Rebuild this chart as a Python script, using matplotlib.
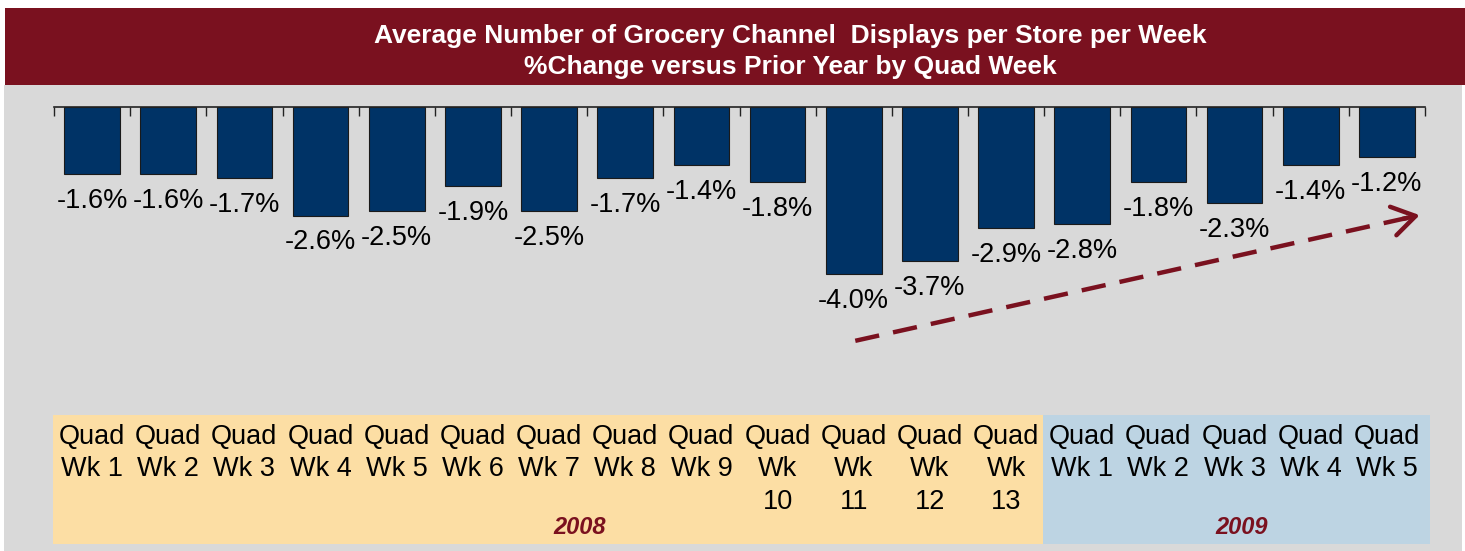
import matplotlib
matplotlib.use("Agg")
import matplotlib.pyplot as plt
from matplotlib.patches import Rectangle

plt.rcParams['font.family'] = ['Liberation Sans', 'DejaVu Sans']

# ---- data ----
values = [-1.6, -1.6, -1.7, -2.6, -2.5, -1.9, -2.5, -1.7, -1.4, -1.8,
          -4.0, -3.7, -2.9, -2.8, -1.8, -2.3, -1.4, -1.2]
labels_2008 = ["Quad\nWk 1", "Quad\nWk 2", "Quad\nWk 3", "Quad\nWk 4", "Quad\nWk 5",
               "Quad\nWk 6", "Quad\nWk 7", "Quad\nWk 8", "Quad\nWk 9",
               "Quad\nWk\n10", "Quad\nWk\n11", "Quad\nWk\n12", "Quad\nWk\n13"]
labels_2009 = ["Quad\nWk 1", "Quad\nWk 2", "Quad\nWk 3", "Quad\nWk 4", "Quad\nWk 5"]
years = ["2008", "2009"]
title_lines = ["Average Number of Grocery Channel  Displays per Store per Week",
               "%Change versus Prior Year by Quad Week"]
trend_start = (10.02, -5.60)
trend_end = (17.43, -2.59)

W, H = 1465, 551
fig = plt.figure(figsize=(W / 100, H / 100), dpi=100, facecolor="white")

RED = "#7A111F"
GRAY = "#D9D9D9"
NAVY = "#003366"
YELLOW = "#FCDEA4"
BLUE = "#BDD4E3"

def px_rect(x0, y0, x1, y1, color, z=0):
    fig.patches.append(Rectangle((x0 / W, 1 - y1 / H), (x1 - x0) / W, (y1 - y0) / H,
                                 transform=fig.transFigure, facecolor=color,
                                 edgecolor="none", zorder=z))

# background panels
px_rect(4, 85, 1462, 551, GRAY, z=-2)
px_rect(5, 8, 1465, 85, RED, z=-2)

fig.text(790 / W, 1 - 36 / H, title_lines[0], color="white", fontsize=19,
         fontweight="bold", ha="center", va="center")
fig.text(790 / W, 1 - 67 / H, title_lines[1], color="white", fontsize=19,
         fontweight="bold", ha="center", va="center")

# axes for bars
ax_left, ax_right = 54, 1425
ax_top, ax_bot = 107, 415
ax = fig.add_axes([ax_left / W, 1 - ax_bot / H, (ax_right - ax_left) / W, (ax_bot - ax_top) / H])
ax.set_zorder(5)
ax.set_facecolor("none")
n = len(values)
x = list(range(n))
pxper = 41.75
ax.set_xlim(-0.5, n - 0.5)
ax.set_ylim(-(ax_bot - ax_top) / pxper, 0)

ax.bar(x, values, width=0.73, color=NAVY, edgecolor="#1a1a1a", linewidth=0.8, zorder=2)
for xi, v in zip(x, values):
    ax.annotate(f"{v:.1f}%", (xi, v), xytext=(0, -10), textcoords="offset points",
                ha="center", va="top", fontsize=19.5, color="black")

for s in ["left", "right", "bottom"]:
    ax.spines[s].set_visible(False)
ax.spines["top"].set_color("#222222")
ax.spines["top"].set_linewidth(1.2)
ax.set_yticks([])
ax.set_xticks([i - 0.5 for i in range(n + 1)])
ax.set_xticklabels([])
ax.xaxis.set_ticks_position("top")
ax.tick_params(axis="x", direction="in", length=6.5, width=1.0, color="#222222")

# trend arrow: dashed shaft + solid open head
ax.plot([trend_start[0], trend_end[0]], [trend_start[1], trend_end[1]], color=RED,
        lw=3.2, linestyle=(0, (5.5, 3.2)), solid_capstyle="butt", dash_capstyle="butt",
        clip_on=False, zorder=3)
fx = trend_end[0] - (trend_end[0] - trend_start[0]) * 0.03
fy = trend_end[1] - (trend_end[1] - trend_start[1]) * 0.03
ax.annotate("", xy=trend_end, xytext=(fx, fy),
            arrowprops=dict(arrowstyle="->,head_length=0.55,head_width=0.35", color=RED,
                            lw=3.2, mutation_scale=30, shrinkA=0, shrinkB=0),
            annotation_clip=False, zorder=3)

# category table
cat_w = (ax_right - ax_left) / n
px_rect(53, 415, 1043, 544, YELLOW, z=-1)
px_rect(1043, 415, 1430, 544, BLUE, z=-1)
all_labels = labels_2008 + labels_2009
for i, lab in enumerate(all_labels):
    cx = ax_left + cat_w * (i + 0.5)
    fig.text(cx / W, 1 - 424 / H, lab, ha="center", va="top", fontsize=19.5,
             linespacing=1.32, color="black", zorder=3)
fig.text(580 / W, 1 - 527 / H, years[0], color=RED, fontsize=17, fontweight="bold",
         style="italic", ha="center", va="center", zorder=3)
fig.text(1242 / W, 1 - 527 / H, years[1], color=RED, fontsize=17, fontweight="bold",
         style="italic", ha="center", va="center", zorder=3)

fig.savefig("out.png", dpi=100, facecolor="white")
